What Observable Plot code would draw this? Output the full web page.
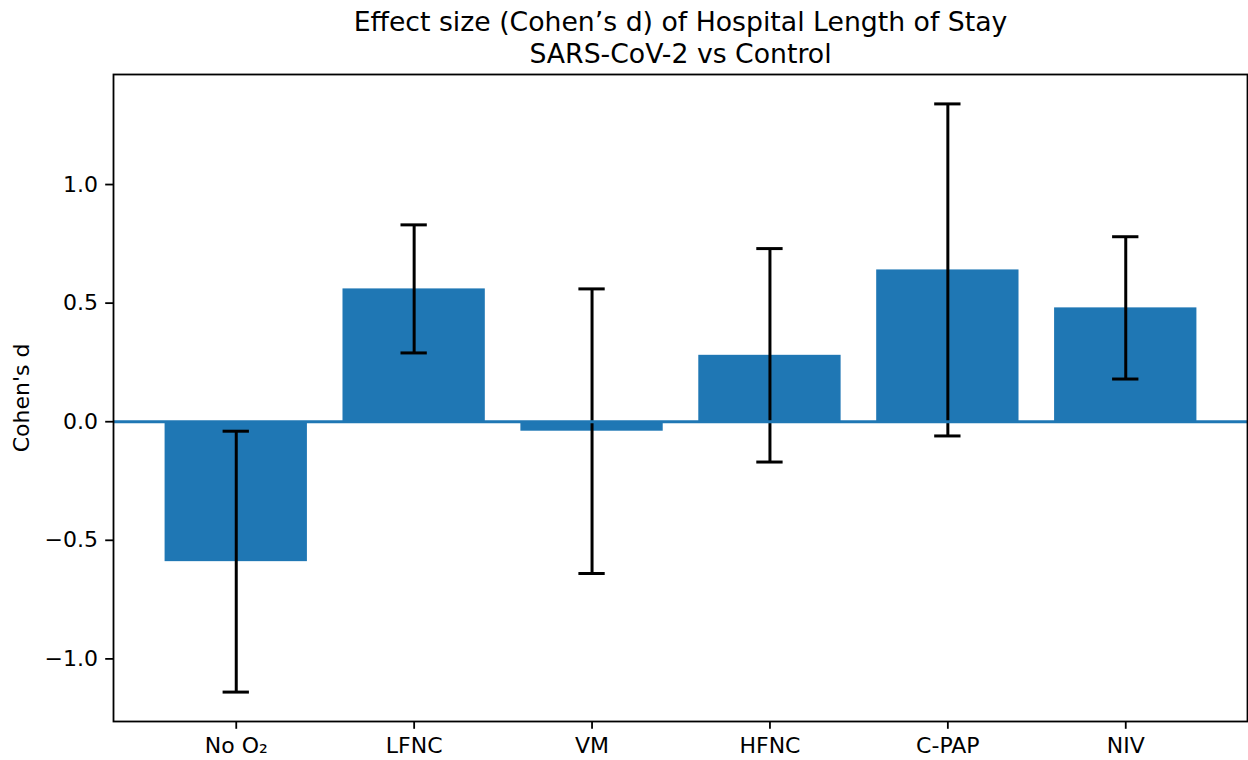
<!DOCTYPE html>
<html>
<head>
<meta charset="utf-8">
<script src="https://cdn.jsdelivr.net/npm/d3@7"></script>
<script src="https://cdn.jsdelivr.net/npm/@observablehq/plot@0.6"></script>
<style>
  html, body { margin: 0; padding: 0; background: #fff; }
  #wrap { position: relative; width: 1248px; height: 760px; overflow: hidden; }
  #title {
    position: absolute; left: 113px; width: 1135px; top: 6px;
    text-align: center; font-family: "DejaVu Sans", sans-serif;
    font-size: 26.7px; line-height: 31.5px; color: #000;
  }
  #chart { position: absolute; left: 0; top: 0; }
</style>
</head>
<body>
<div id="wrap">
  <div id="chart"></div>
  <div id="title">Effect size (Cohen’s d) of Hospital Length of Stay<br>SARS-CoV-2 vs Control</div>
</div>
<script>
const categories = ["No O₂", "LFNC", "VM", "HFNC", "C-PAP", "NIV"];
const effect = [-0.59, 0.56, -0.04, 0.28, 0.64, 0.48];
const ciLow = [-1.14, 0.29, -0.64, -0.17, -0.06, 0.18];
const ciHigh = [-0.04, 0.83, 0.56, 0.73, 1.34, 0.78];
const yTicks = [-1.0, -0.5, 0.0, 0.5, 1.0];

const rows = categories.map((c, i) => ({cat: c, d: effect[i], lo: ciLow[i], hi: ciHigh[i]}));
const yMin = d3.min(ciLow), yMax = d3.max(ciHigh);
const pad = (yMax - yMin) * 0.05;

const chart = Plot.plot({
  width: 1248,
  height: 760,
  marginTop: 74,
  marginBottom: 39,
  marginLeft: 113,
  marginRight: 0,
  style: {fontFamily: "DejaVu Sans, sans-serif", fontSize: "22px", color: "#000", background: "#fff"},
  x: {domain: categories, paddingInner: 0.2, paddingOuter: 0.29, align: 0.5, round: false},
  y: {domain: [yMin - pad, yMax + pad]},
  marks: [
    Plot.barY(rows, {x: "cat", y: "d", fill: "#1f77b4"}),
    Plot.ruleX(rows, {x: "cat", y1: "lo", y2: "hi", stroke: "#000", strokeWidth: 3}),
    Plot.tickY(rows, {x: "cat", y: "lo", stroke: "#000", strokeWidth: 3, insetLeft: 58, insetRight: 58}),
    Plot.tickY(rows, {x: "cat", y: "hi", stroke: "#000", strokeWidth: 3, insetLeft: 58, insetRight: 58}),
    Plot.ruleY([0], {stroke: "#1f77b4", strokeWidth: 3}),
    Plot.axisX({tickSize: 7.8, tickPadding: 7.8, strokeWidth: 1.8, label: null, fontSize: 22}),
    Plot.axisY({ticks: yTicks, tickFormat: d3.format(".1f"), tickSize: 7.8, tickPadding: 7.8, strokeWidth: 1.8,
      label: "Cohen's d", labelAnchor: "center", labelArrow: "none", labelOffset: 100, fontSize: 22}),
    Plot.frame({stroke: "#000", strokeWidth: 1.8, insetRight: 1})
  ]
});
document.getElementById("chart").appendChild(chart);
</script>
</body>
</html>
